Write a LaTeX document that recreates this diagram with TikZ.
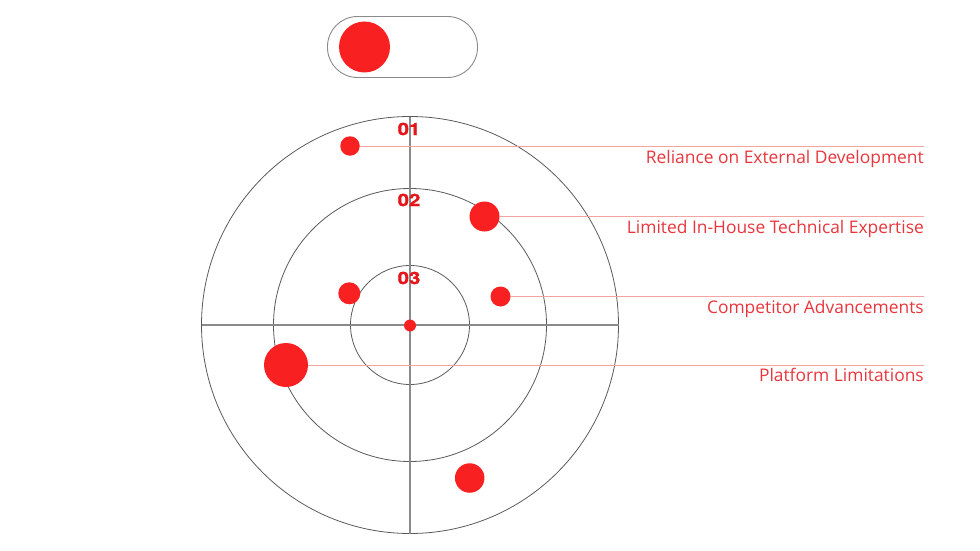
\documentclass[tikz,border=0pt]{standalone}
\usepackage{fontspec}
\setmainfont{Open Sans}
\newfontfamily\numfont[FakeStretch=1.2,FakeBold=1.5]{TeX Gyre Heros}
\definecolor{dotred}{HTML}{F92022}
\definecolor{numred}{HTML}{E3161B}
\definecolor{leadred}{HTML}{F4A3A3}
\definecolor{txtred}{HTML}{E8363C}
\definecolor{ringgray}{HTML}{5A5A5A}
\definecolor{axisgray}{HTML}{8A8A8A}
\begin{document}
\begin{tikzpicture}[x=1pt,y=-1pt,
  ring/.style={draw=ringgray,line width=0.8pt},
  axisline/.style={draw=axisgray,line width=1.1pt},
  dot/.style={circle,fill=dotred,inner sep=0pt,outer sep=0pt},
  lead/.style={draw=leadred,line width=1pt},
  lab/.style={text=txtred,font=\fontsize{17.4}{20}\selectfont,inner sep=0pt,anchor=base east},
  num/.style={text=numred,font=\numfont\bfseries\fontsize{17}{18}\selectfont,inner sep=0pt},
  toggle/.style={draw=axisgray,line width=0.9pt,rounded corners=30pt}]
\useasboundingbox (0,0) rectangle (980,551);
% toggle
\draw[toggle] (327.5,16.5) rectangle (477.5,77.5);
\node[dot,minimum size=51pt] (tg) at (364.5,47) {};
% target rings
\coordinate (c) at (410,325);
\draw[ring] (c) circle (208.5);
\draw[ring] (c) circle (136.5);
\draw[ring] (c) circle (59.5);
\coordinate (axl) at (201.5,325);
\coordinate (axr) at (618.5,325);
\coordinate (axt) at (410,116.5);
\coordinate (axb) at (410,534);
\draw[axisline] (axl) -- (axr);
\draw[axisline] (axt) -- (axb);
% ring numbers
\node[num] (n1) at (409,129) {01};
\node[num] (n2) at (409,200) {02};
\node[num] (n3) at (409,278) {03};
% line end points
\coordinate (e1) at (924,146);
\coordinate (e2) at (924,216.5);
\coordinate (e3) at (924,296.5);
\coordinate (e4) at (924,365);
% dots
\node[dot,minimum size=19.5pt] (d1) at (350,146) {};
\node[dot,minimum size=30pt] (d2) at (484.5,216.5) {};
\node[dot,minimum size=22pt] (d3) at (349.3,293.3) {};
\node[dot,minimum size=20pt] (d4) at (500.5,296.5) {};
\node[dot,minimum size=12pt] (d0) at (410,325.5) {};
\node[dot,minimum size=44pt] (d5) at (286,365) {};
\node[dot,minimum size=29.5pt] (d6) at (469.7,478) {};
% leader lines
\draw[lead] (d1.east) -- (e1);
\draw[lead] (d2.east) -- (e2);
\draw[lead] (d4.east) -- (e3);
\draw[lead] (d5.east) -- (e4);
% labels
\node[lab] (t1) at (924,163) {Reliance on External Development};
\node[lab] (t2) at (924,233) {Limited In-House Technical Expertise};
\node[lab] (t3) at (924,313) {Competitor Advancements};
\node[lab] (t4) at (924,381.5) {Platform Limitations};
\end{tikzpicture}
\end{document}
